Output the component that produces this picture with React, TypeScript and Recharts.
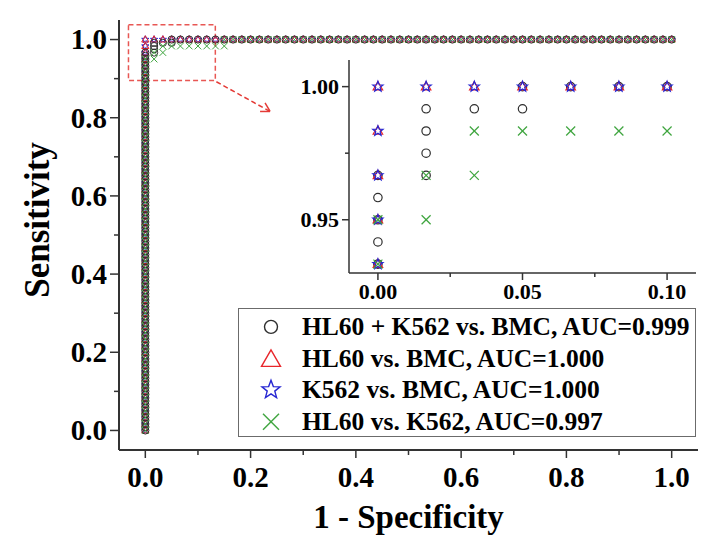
import React from 'react';
import { ScatterChart, Scatter, XAxis, YAxis, ReferenceArea, ReferenceLine } from 'recharts';

// ---- counts behind the ROC curves ----
const NEGATIVES = 60; // BMC (or K562 for the last curve)
const POS_COMBO = 120; // HL60 + K562
const POS_SINGLE = 60; // HL60 or K562

// HL60 + K562 vs. BMC : true-positive counts at FPR = 0, step points, then FP counts at TPR = 1
const comboColumnTP = [0,1,2,3,4,5,6,7,8,9,10,11,12,13,14,15,16,17,18,19,20,21,22,23,24,25,26,27,28,29,30,31,32,33,34,35,36,37,38,39,40,41,42,43,44,45,46,47,48,49,50,51,52,53,54,55,56,57,58,59,60,61,62,63,64,65,66,67,68,69,70,71,72,73,74,75,76,77,78,79,80,81,82,83,84,85,86,87,88,89,90,91,92,93,94,95,96,97,98,99,100,101,102,103,104,105,106,107,108,109,110,111,112,113,114,115,116];
const comboStepFP = [1,1,1,1,2,3,3];
const comboStepTP = [116,117,118,119,119,119,120];
const comboTopFP = [4,5,6,7,8,9,10,11,12,13,14,15,16,17,18,19,20,21,22,23,24,25,26,27,28,29,30,31,32,33,34,35,36,37,38,39,40,41,42,43,44,45,46,47,48,49,50,51,52,53,54,55,56,57,58,59,60];

// HL60 vs. BMC
const hl60ColumnTP = [0,1,2,3,4,5,6,7,8,9,10,11,12,13,14,15,16,17,18,19,20,21,22,23,24,25,26,27,28,29,30,31,32,33,34,35,36,37,38,39,40,41,42,43,44,45,46,47,48,49,50,51,52,53,54,55,56,57,58,59,60];
const hl60StepFP: number[] = [];
const hl60StepTP: number[] = [];
const hl60TopFP = [1,2,3,4,5,6,7,8,9,10,11,12,13,14,15,16,17,18,19,20,21,22,23,24,25,26,27,28,29,30,31,32,33,34,35,36,37,38,39,40,41,42,43,44,45,46,47,48,49,50,51,52,53,54,55,56,57,58,59,60];

// K562 vs. BMC
const k562ColumnTP = [0,1,2,3,4,5,6,7,8,9,10,11,12,13,14,15,16,17,18,19,20,21,22,23,24,25,26,27,28,29,30,31,32,33,34,35,36,37,38,39,40,41,42,43,44,45,46,47,48,49,50,51,52,53,54,55,56,57,58,59,60];
const k562StepFP: number[] = [];
const k562StepTP: number[] = [];
const k562TopFP = [1,2,3,4,5,6,7,8,9,10,11,12,13,14,15,16,17,18,19,20,21,22,23,24,25,26,27,28,29,30,31,32,33,34,35,36,37,38,39,40,41,42,43,44,45,46,47,48,49,50,51,52,53,54,55,56,57,58,59,60];

// HL60 vs. K562
const hkColumnTP = [0,1,2,3,4,5,6,7,8,9,10,11,12,13,14,15,16,17,18,19,20,21,22,23,24,25,26,27,28,29,30,31,32,33,34,35,36,37,38,39,40,41,42,43,44,45,46,47,48,49,50,51,52,53,54,55,56,57];
const hkStepFP = [1,1,2,2,3,4,5,6,7,8,9,9];
const hkStepTP = [57,58,58,59,59,59,59,59,59,59,59,60];
const hkTopFP = [10,11,12,13,14,15,16,17,18,19,20,21,22,23,24,25,26,27,28,29,30,31,32,33,34,35,36,37,38,39,40,41,42,43,44,45,46,47,48,49,50,51,52,53,54,55,56,57,58,59,60];

const seriesNames = [
  'HL60 + K562 vs. BMC, AUC=0.999',
  'HL60 vs. BMC, AUC=1.000',
  'K562 vs. BMC, AUC=1.000',
  'HL60 vs. K562, AUC=0.997',
];

// ticks
const mainTicks = [0, 0.1, 0.2, 0.3, 0.4, 0.5, 0.6, 0.7, 0.8, 0.9, 1.0];
const mainMajor = [0, 0.2, 0.4, 0.6, 0.8, 1.0];
const insetXTicks = [0, 0.025, 0.05, 0.075, 0.1];
const insetXMajor = [0, 0.05, 0.1];
const insetYTicks = [0.95, 0.975, 1.0];
const insetYMajor = [0.95, 1.0];

type Pt = { x: number; y: number };
function build(colTP: number[], stepFP: number[], stepTP: number[], topFP: number[], nPos: number): Pt[] {
  const pts: Pt[] = [];
  colTP.forEach((tp) => pts.push({ x: 0, y: tp / nPos }));
  stepFP.forEach((fp, i) => pts.push({ x: fp / NEGATIVES, y: stepTP[i] / nPos }));
  topFP.forEach((fp) => pts.push({ x: fp / NEGATIVES, y: 1 }));
  return pts;
}

const comboData = build(comboColumnTP, comboStepFP, comboStepTP, comboTopFP, POS_COMBO);
const hl60Data = build(hl60ColumnTP, hl60StepFP, hl60StepTP, hl60TopFP, POS_SINGLE);
const k562Data = build(k562ColumnTP, k562StepFP, k562StepTP, k562TopFP, POS_SINGLE);
const hkData = build(hkColumnTP, hkStepFP, hkStepTP, hkTopFP, POS_SINGLE);

const MAIN_X = [-0.05, 1.05];
const MAIN_Y = [-0.05, 1.05];
const INSET_X = [-0.01, 0.11];
const INSET_Y = [0.93, 1.01];
const inInset = (p: Pt) => p.x >= INSET_X[0] && p.x <= INSET_X[1] && p.y >= INSET_Y[0] && p.y <= INSET_Y[1];

type Kind = 'circle' | 'triangle' | 'star' | 'cross';
type S = { name: string; data: Pt[]; kind: Kind; color: string };
const series: S[] = [
  { name: seriesNames[0], data: comboData, kind: 'circle', color: '#2e2e2e' },
  { name: seriesNames[1], data: hl60Data, kind: 'triangle', color: '#e8262b' },
  { name: seriesNames[2], data: k562Data, kind: 'star', color: '#2626d2' },
  { name: seriesNames[3], data: hkData, kind: 'cross', color: '#3fa53f' },
];
// drawing order (bottom to top)
const drawOrder = [2, 1, 0, 3];

const FONT = '"Liberation Serif", "Times New Roman", serif';
const AXIS = '#333';

function Marker({ kind, cx, cy, s, color, sw }: { kind: Kind; cx: number; cy: number; s: number; color: string; sw: number }) {
  if (cx == null || cy == null || isNaN(cx) || isNaN(cy)) return null;
  if (kind === 'circle') return <circle cx={cx} cy={cy} r={s} fill="none" stroke={color} strokeWidth={sw} />;
  if (kind === 'triangle') {
    const pts = `${cx},${cy - s} ${cx - s * 0.95},${cy + s * 0.65} ${cx + s * 0.95},${cy + s * 0.65}`;
    return <polygon points={pts} fill="none" stroke={color} strokeWidth={sw} strokeLinejoin="miter" />;
  }
  if (kind === 'star') {
    const p: string[] = [];
    for (let i = 0; i < 10; i++) {
      const r = i % 2 === 0 ? s : s * 0.42;
      const a = -Math.PI / 2 + (i * Math.PI) / 5;
      p.push(`${(cx + r * Math.cos(a)).toFixed(2)},${(cy + r * Math.sin(a)).toFixed(2)}`);
    }
    return <polygon points={p.join(' ')} fill="none" stroke={color} strokeWidth={sw} />;
  }
  return (
    <g stroke={color} strokeWidth={sw}>
      <line x1={cx - s} y1={cy - s} x2={cx + s} y2={cy + s} />
      <line x1={cx - s} y1={cy + s} x2={cx + s} y2={cy - s} />
    </g>
  );
}

const mainSize: Record<Kind, number> = { circle: 3.6, triangle: 3.8, star: 3.8, cross: 3.3 };
const insetSize: Record<Kind, number> = { circle: 4.2, triangle: 5, star: 5.4, cross: 4.5 };
const legendSize: Record<Kind, number> = { circle: 6.5, triangle: 10, star: 9.5, cross: 8 };

type TickOpts = { major: number[]; dec: number; majorLen: number; minorLen: number; gap: number; fs: number };
function xTick(props: any, o: TickOpts) {
  const { x, y, payload } = props;
  const v = Number(payload.value);
  const isMajor = o.major.some((m) => Math.abs(m - v) < 1e-6);
  const len = isMajor ? o.majorLen : o.minorLen;
  return (
    <g>
      <line x1={x} y1={y} x2={x} y2={y + len} stroke={AXIS} strokeWidth={1.5} />
      {isMajor && (
        <text x={x} y={y + o.majorLen + o.gap} dy="0.72em" textAnchor="middle" fontSize={o.fs} fontWeight={700} fontFamily={FONT} fill="#000">
          {v.toFixed(o.dec)}
        </text>
      )}
    </g>
  );
}
function yTick(props: any, o: TickOpts) {
  const { x, y, payload } = props;
  const v = Number(payload.value);
  const isMajor = o.major.some((m) => Math.abs(m - v) < 1e-6);
  const len = isMajor ? o.majorLen : o.minorLen;
  return (
    <g>
      <line x1={x} y1={y} x2={x - len} y2={y} stroke={AXIS} strokeWidth={1.5} />
      {isMajor && (
        <text x={x - o.majorLen - o.gap} y={y} dy="0.34em" textAnchor="end" fontSize={o.fs} fontWeight={700} fontFamily={FONT} fill="#000">
          {v.toFixed(o.dec)}
        </text>
      )}
    </g>
  );
}

const mainXOpts: TickOpts = { major: mainMajor, dec: 1, majorLen: 8, minorLen: 5, gap: 8, fs: 29 };
const mainYOpts: TickOpts = { major: mainMajor, dec: 1, majorLen: 9, minorLen: 5, gap: 3, fs: 29 };
const insetXOpts: TickOpts = { major: insetXMajor, dec: 2, majorLen: 7, minorLen: 4, gap: 3, fs: 22 };
const insetYOpts: TickOpts = { major: insetYMajor, dec: 2, majorLen: 7, minorLen: 4, gap: 3, fs: 22 };

// annotation: dashed zoom box and arrow (data coordinates)
const zoomBox = { x1: -0.032, x2: 0.133, y1: 0.895, y2: 1.038 };
const arrowShaft = [{ x: 0.135, y: 0.892 }, { x: 0.237, y: 0.816 }];
const arrowWing1 = [{ x: 0.2275, y: 0.838 }, { x: 0.237, y: 0.816 }];
const arrowWing2 = [{ x: 0.218, y: 0.816 }, { x: 0.237, y: 0.816 }];
const RED = '#e43a36';

const YTitle = (props: any) => {
  const vb = props.viewBox || { x: 0, y: 20, width: 119, height: 430 };
  const cx = vb.x + 37;
  const cy = vb.y + vb.height / 2 - 15;
  return (
    <text x={cx} y={cy} transform={`rotate(-90 ${cx} ${cy})`} textAnchor="middle" dominantBaseline="central" fontSize={35} fontWeight={700} fontFamily={FONT} fill="#000">
      Sensitivity
    </text>
  );
};

export default function App() {
  return (
    <div style={{ position: 'absolute', left: 0, top: 0, width: 728, height: 550, background: '#fff', fontFamily: FONT }}>
      <ScatterChart width={728} height={550} margin={{ top: 20, right: 30, bottom: 0, left: 0 }}>
        <XAxis
          type="number"
          dataKey="x"
          domain={MAIN_X}
          allowDataOverflow
          ticks={mainTicks}
          interval={0}
          tickSize={0}
          tickMargin={0}
          tickLine={false}
          axisLine={{ stroke: AXIS, strokeWidth: 2 }}
          tick={(p: any) => xTick(p, mainXOpts)}
          height={100}
          label={{ value: '1 - Specificity', position: 'insideBottom', offset: 22, style: { fontSize: 33, fontWeight: 700, fontFamily: FONT, fill: '#000' } }}
        />
        <YAxis
          type="number"
          dataKey="y"
          domain={MAIN_Y}
          allowDataOverflow
          ticks={mainTicks}
          interval={0}
          tickSize={0}
          tickMargin={0}
          tickLine={false}
          axisLine={{ stroke: AXIS, strokeWidth: 2 }}
          tick={(p: any) => yTick(p, mainYOpts)}
          width={119}
          label={{ content: YTitle }}
        />
        {drawOrder.map((i) => {
          const s = series[i];
          return (
            <Scatter
              key={s.name}
              name={s.name}
              data={s.data}
              isAnimationActive={false}
              shape={(p: any) => <Marker kind={s.kind} cx={p.cx} cy={p.cy} s={mainSize[s.kind]} color={s.color} sw={1} />}
            />
          );
        })}
        <ReferenceArea x1={zoomBox.x1} x2={zoomBox.x2} y1={zoomBox.y1} y2={zoomBox.y2} fill="none" fillOpacity={0} stroke={RED} strokeOpacity={0.85} strokeDasharray="5 3" strokeWidth={1.5} ifOverflow="visible" />
        <ReferenceLine segment={arrowShaft} stroke={RED} strokeDasharray="5 3" strokeWidth={1.5} ifOverflow="visible" />
        <ReferenceLine segment={arrowWing1} stroke={RED} strokeWidth={1.5} ifOverflow="visible" />
        <ReferenceLine segment={arrowWing2} stroke={RED} strokeWidth={1.5} ifOverflow="visible" />
      </ScatterChart>

      <div style={{ position: 'absolute', left: 280, top: 50 }}>
        <ScatterChart width={448} height={263} margin={{ top: 10, right: 32, bottom: 0, left: 0 }}>
          <XAxis
            type="number"
            dataKey="x"
            domain={INSET_X}
            allowDataOverflow
            ticks={insetXTicks}
            interval={0}
            tickSize={0}
            tickMargin={0}
            tickLine={false}
            axisLine={{ stroke: AXIS, strokeWidth: 1.5 }}
            tick={(p: any) => xTick(p, insetXOpts)}
            height={40}
          />
          <YAxis
            type="number"
            dataKey="y"
            domain={INSET_Y}
            allowDataOverflow
            ticks={insetYTicks}
            interval={0}
            tickSize={0}
            tickMargin={0}
            tickLine={false}
            axisLine={{ stroke: AXIS, strokeWidth: 1.5 }}
            tick={(p: any) => yTick(p, insetYOpts)}
            width={69}
          />
          {series.map((s) => (
            <Scatter
              key={s.name}
              name={s.name}
              data={s.data.filter(inInset)}
              isAnimationActive={false}
              shape={(p: any) => <Marker kind={s.kind} cx={p.cx} cy={p.cy} s={insetSize[s.kind]} color={s.color} sw={1.2} />}
            />
          ))}
        </ScatterChart>
      </div>

      <div
        style={{
          position: 'absolute',
          left: 238,
          top: 308,
          width: 458,
          height: 129,
          border: '1.5px solid #6b6b6b',
          background: '#fff',
          boxSizing: 'border-box',
        }}
      >
        {series.map((s, i) => (
          <div key={s.name} style={{ position: 'absolute', left: 0, top: 2 + i * 31.7, height: 31.7, display: 'flex', alignItems: 'center' }}>
            <svg width={63} height={31.7} style={{ display: 'block' }}>
              <Marker kind={s.kind} cx={32} cy={15.85 + (s.kind === 'triangle' ? 1 : 0)} s={legendSize[s.kind]} color={s.color} sw={1.4} />
            </svg>
            <span style={{ fontSize: 25.5, fontWeight: 700, whiteSpace: 'nowrap', lineHeight: '31.7px', color: '#000', fontFamily: FONT }}>{s.name}</span>
          </div>
        ))}
      </div>
    </div>
  );
}
